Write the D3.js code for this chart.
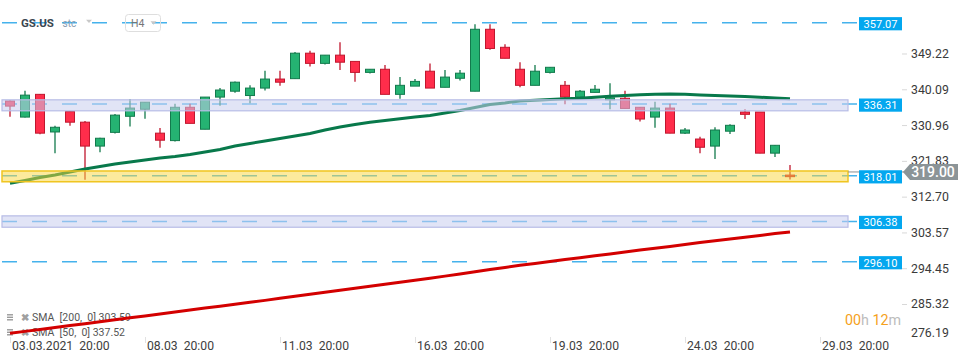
<!DOCTYPE html>
<html><head><meta charset="utf-8">
<script src="https://cdn.jsdelivr.net/npm/d3@7"></script>
<style>
body{margin:0;background:#fff;}
svg{display:block;font-family:Roboto,"Open Sans",sans-serif;}
</style>
</head><body>
<svg id="c" width="970" height="364"></svg>
<script>
// ---- data (GS.US, H4) ----
const opens  = [337.1,333.0,338.8,329.2,334.4,331.7,325.6,329.1,333.2,335.0,328.9,327.0,335.5,329.9,338.1,339.6,338.5,340.4,342.7,342.8,349.3,346.7,348.8,347.2,344.4,345.2,338.8,340.9,344.7,340.6,342.9,339.6,355.4,350.8,345.2,341.1,344.4,341.1,338.1,339.3,337.4,337.8,335.5,333.0,335.3,328.9,327.4,325.6,329.4,334.3,334.3,323.8,318.2];
const highs  = [337.3,339.7,338.9,330.8,334.5,332.0,327.7,333.8,337.6,336.8,330.2,336.4,336.4,338.1,340.4,342.1,341.1,344.8,344.8,349.6,349.9,348.8,352.1,347.2,345.2,346.3,343.2,342.7,346.7,345.0,345.0,356.7,356.7,351.6,347.0,346.3,345.7,342.2,339.9,341.2,341.6,339.7,335.6,336.9,336.4,330.2,328.0,330.4,331.2,335.0,334.3,325.9,320.8];
const lows   = [333.1,332.9,328.6,323.8,330.8,317.0,324.0,328.8,330.6,332.6,325.2,326.8,331.4,329.9,335.9,339.2,336.5,339.8,341.0,342.8,345.9,346.4,345.0,342.0,344.1,338.8,337.7,340.9,340.4,340.6,342.3,339.6,350.2,348.0,340.6,341.1,344.1,336.3,338.0,339.3,335.0,335.1,331.9,330.3,328.9,328.7,323.8,322.3,328.7,332.5,323.8,322.8,317.1];
const closes = [335.8,338.6,328.9,330.4,331.7,325.6,327.6,333.5,335.3,336.8,327.1,335.5,331.4,338.1,339.9,341.9,340.4,342.7,341.9,349.3,346.7,348.8,347.0,344.4,345.2,338.8,341.1,342.1,340.4,343.2,344.2,355.4,350.5,348.0,341.1,344.7,345.7,338.1,339.6,340.1,337.9,335.2,332.5,335.3,328.9,329.7,325.3,329.7,330.9,333.7,323.8,325.8,317.8];
const sma50  = [316.11,316.82,317.59,318.22,318.99,319.76,320.39,321.03,321.54,322.05,322.56,322.94,323.45,324.09,324.73,325.62,326.26,326.90,327.54,328.17,328.81,329.70,330.47,331.11,331.67,332.13,332.59,333.02,333.40,334.04,334.68,335.44,336.21,336.59,337.10,337.31,337.51,337.66,337.82,338.07,338.33,338.51,338.68,338.81,338.89,338.81,338.63,338.53,338.40,338.23,338.05,337.89,337.70];
const sma200 = [277.84,278.33,278.81,279.32,279.81,280.29,280.80,281.29,281.80,282.28,282.79,283.28,283.79,284.27,284.76,285.27,285.75,286.24,286.77,287.28,287.79,288.30,288.81,289.32,289.83,290.34,290.85,291.36,291.87,292.43,292.97,293.53,294.09,294.63,295.19,295.67,296.16,296.64,297.13,297.61,298.10,298.58,299.07,299.55,300.01,300.50,300.98,301.44,301.90,302.36,302.82,303.28,303.70];
const xTickIdx    = [0, 9, 18, 27, 36, 45, 54];
const xTickLabels = ["03.03.2021\u00A0\u00A020:00","08.03\u00A0\u00A020:00","11.03\u00A0\u00A020:00","16.03\u00A0\u00A020:00","19.03\u00A0\u00A020:00","24.03\u00A0\u00A020:00","29.03\u00A0\u00A020:00"];
const yTicks      = [349.22, 340.09, 330.96, 321.83, 312.70, 303.57, 294.45, 285.32, 276.19];
const levels      = [357.07, 336.31, 318.01, 306.38, 296.10];
const zoneTop     = [337.40, 319.25, 307.80];
const zoneBottom  = [334.60, 316.50, 304.90];
const zoneKinds   = ["blue", "yellow", "blue"];
const lastPrice   = 319.00;
const legendRows  = ["SMA\u00A0\u00A0[200,\u00A0\u00A00]\u00A0303.59", "SMA\u00A0\u00A0[50,\u00A0\u00A00]\u00A0337.52"];

// ---- scales ----
const svg = d3.select("#c");
const x = d3.scaleLinear().domain([0, 60]).range([10, 910]);
const y = d3.scaleLinear().domain([280, 350]).range([324.84, 50.44]);
const plotL = 2, plotR = 859, zoneR = 848;

// ---- level dashed lines ----
svg.append("g").selectAll("line").data(levels).join("line")
  .attr("x1", plotL).attr("x2", plotR)
  .attr("y1", d => y(d)).attr("y2", d => y(d))
  .attr("stroke", "#45b2ec").attr("stroke-width", 1.5)
  .attr("stroke-dasharray", "15,15");

// ---- candles ----
const idx = d3.range(opens.length);
const GREEN = "#25b372", GREEN_S = "#137a4d", RED = "#ff2d4b", RED_S = "#c0172e";
const cg = svg.append("g");
cg.selectAll("line").data(idx).join("line")
  .attr("x1", i => x(i)).attr("x2", i => x(i))
  .attr("y1", i => y(highs[i])).attr("y2", i => y(lows[i]))
  .attr("stroke", i => closes[i] >= opens[i] ? GREEN_S : RED_S)
  .attr("stroke-width", 1.3);
cg.selectAll("rect").data(idx).join("rect")
  .attr("x", i => x(i) - 4.5).attr("width", 9)
  .attr("y", i => y(Math.max(opens[i], closes[i])))
  .attr("height", i => Math.max(1, Math.abs(y(opens[i]) - y(closes[i]))))
  .attr("fill", i => closes[i] >= opens[i] ? GREEN : RED)
  .attr("stroke", i => closes[i] >= opens[i] ? GREEN_S : RED_S)
  .attr("stroke-width", 1);

// ---- legend (under SMA lines) ----
const lg = svg.append("g").attr("font-size", 10.5).attr("fill", "#555");
legendRows.forEach((t, k) => {
  const cy = 317.3 + k * 15;
  [-2.5, 0, 2.5].forEach(o => lg.append("rect").attr("x", 7).attr("y", cy + o - 0.7).attr("width", 6).attr("height", 1.4).attr("fill", "#9a9a9a"));
  lg.append("text").attr("x", 20.5).attr("y", cy).attr("dy", "0.35em").attr("fill", "#a0a0a0").attr("font-size", 10).attr("font-weight", "bold").text("✖");
  lg.append("text").attr("x", 32).attr("y", cy).attr("dy", "0.35em").text(t);
});

// ---- SMA lines ----
const lineGen = arr => d3.line().x((d, i) => x(i)).y(d => y(d))(arr);
svg.append("path").attr("d", lineGen(sma50)).attr("fill", "none").attr("stroke", "#08794b").attr("stroke-width", 3);
svg.append("path").attr("d", lineGen(sma200)).attr("fill", "none").attr("stroke", "#d30000").attr("stroke-width", 3);

// ---- zones (on top, translucent) ----
svg.append("g").selectAll("rect").data(d3.range(zoneTop.length)).join("rect")
  .attr("x", plotL).attr("width", zoneR - plotL)
  .attr("y", k => y(zoneTop[k])).attr("height", k => y(zoneBottom[k]) - y(zoneTop[k]))
  .attr("fill", k => zoneKinds[k] === "yellow" ? "rgba(250,214,60,0.5)" : "rgba(200,205,238,0.55)")
  .attr("stroke", k => zoneKinds[k] === "yellow" ? "#f0c520" : "#b7bce6")
  .attr("stroke-width", k => zoneKinds[k] === "yellow" ? 1.5 : 1.2);

// ---- current price line ----
svg.append("line").attr("x1", zoneR).attr("x2", 905)
  .attr("y1", y(lastPrice)).attr("y2", y(lastPrice))
  .attr("stroke", "#8a8f93").attr("stroke-width", 1);

// ---- level labels ----
const ll = svg.append("g");
ll.selectAll("rect").data(levels).join("rect")
  .attr("x", plotR).attr("width", 43).attr("y", d => y(d) + 1 - 6.6).attr("height", 13.2)
  .attr("fill", "#03a7ef");
ll.selectAll("text").data(levels).join("text")
  .attr("x", plotR + 21.5).attr("y", d => y(d) + 1).attr("dy", "0.35em")
  .attr("text-anchor", "middle").attr("fill", "#fff").attr("font-size", 11)
  .text(d => d.toFixed(2));

// ---- right axis ----
const ya = svg.append("g").attr("transform", "translate(902,0)")
  .call(d3.axisRight(y).tickValues(yTicks).tickSize(5).tickPadding(4).tickFormat(d3.format(".2f")));
ya.select(".domain").remove();
ya.selectAll(".tick line").attr("stroke", "#d8d8d8");
ya.selectAll(".tick text").attr("font-family", "Roboto").attr("font-size", 12.3).attr("fill", "#3a3a3a");
ya.selectAll(".tick").filter(d => d === 276.19)
  .attr("transform", "translate(0,333.3)").select("line").remove();

// ---- current price label ----
const py = y(lastPrice);
svg.append("path")
  .attr("d", d3.line()([[903, py], [910, py - 8], [958, py - 8], [958, py + 8], [910, py + 8]]) + "Z")
  .attr("fill", "#8b9497");
svg.append("text").attr("x", 933).attr("y", py).attr("dy", "0.36em")
  .attr("text-anchor", "middle").attr("fill", "#fff").attr("font-size", 14).attr("font-weight", 500)
  .text(lastPrice.toFixed(2));

// ---- bottom axis ----
const xa = svg.append("g").attr("transform", "translate(0,337)")
  .call(d3.axisBottom(x).tickValues(xTickIdx).tickSize(6).tickFormat((d, i) => xTickLabels[i]));
xa.select(".domain").remove();
xa.selectAll(".tick line").attr("stroke", "#e2e2e2");
xa.selectAll(".tick text").attr("text-anchor", "start").attr("x", 1.5).attr("y", 9).attr("dy", "0.35em")
  .attr("font-family", "Roboto").attr("font-size", 12.2).attr("fill", "#404040");

// ---- countdown ----
const cd = svg.append("text").attr("x", 845).attr("y", 319.5).attr("dy", "0.35em").attr("font-size", 14.3);
cd.append("tspan").attr("fill", "#f5a11c").text("00");
cd.append("tspan").attr("fill", "#bcbcbc").text("h");
cd.append("tspan").attr("fill", "#f5a11c").text(" 12");
cd.append("tspan").attr("fill", "#bcbcbc").text("m");

// ---- header ----
const hd = svg.append("g");
hd.append("text").attr("x", 21).attr("y", 23).attr("dy", "0.35em").attr("font-size", 11.5)
  .attr("font-weight", "bold").attr("fill", "#3b4650").text("GS.US");
hd.append("text").attr("x", 62.5).attr("y", 23.5).attr("dy", "0.35em").attr("font-size", 10)
  .attr("fill", "#8a9cb0").text("stc");
hd.append("path").attr("d", "M86,19.8L92,19.8L89,23Z").attr("fill", "#c8c8c8");
hd.append("rect").attr("x", 125.5).attr("y", 14.5).attr("width", 35).attr("height", 17).attr("rx", 3)
  .attr("fill", "none").attr("stroke", "#dedede");
hd.append("text").attr("x", 131).attr("y", 23.5).attr("dy", "0.35em").attr("font-size", 10.5)
  .attr("fill", "#777").text("H4");
hd.append("path").attr("d", "M150.5,21.3L156.5,21.3L153.5,24.7Z").attr("fill", "#c8c8c8");
</script>
</body></html>
